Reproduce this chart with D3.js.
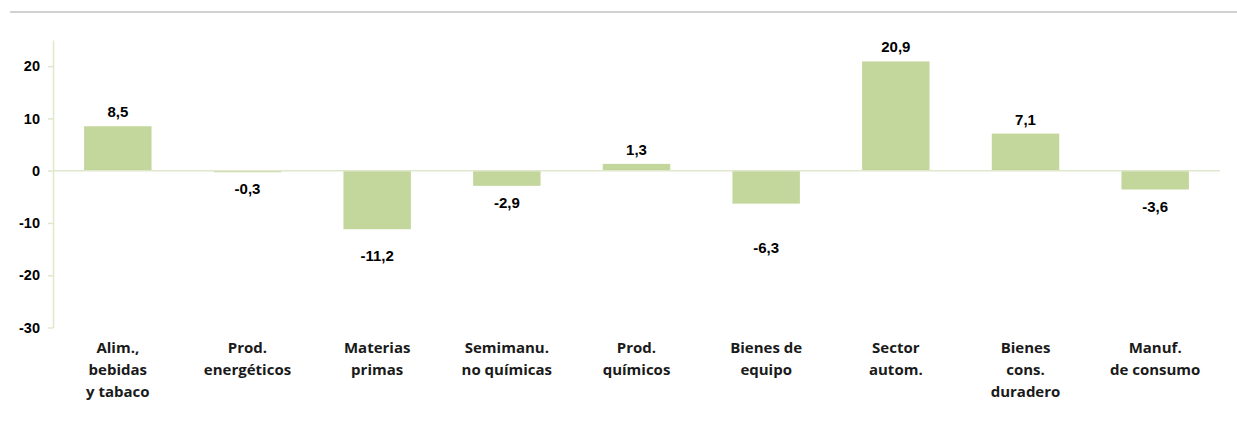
<!DOCTYPE html>
<html>
<head>
<meta charset="utf-8">
<script src="https://cdn.jsdelivr.net/npm/d3@7"></script>
<style>
  body { margin: 0; background: #fff; }
  .tick text { font-family: "Liberation Sans", Arial, sans-serif; font-weight: bold; font-size: 14.5px; fill: #000; }
  .val { font-family: "Liberation Sans", Arial, sans-serif; font-weight: bold; font-size: 15px; fill: #000; }
  .cat { font-family: "Open Sans", sans-serif; font-weight: bold; font-size: 15px; fill: #1a1a1a; }
</style>
</head>
<body>
<div id="chart"></div>
<script>
const width = 1237;
const height = 447;

// datos
const categories = [
  ["Alim.,", "bebidas", "y tabaco"],
  ["Prod.", "energéticos"],
  ["Materias", "primas"],
  ["Semimanu.", "no químicas"],
  ["Prod.", "químicos"],
  ["Bienes de", "equipo"],
  ["Sector", "autom."],
  ["Bienes", "cons.", "duradero"],
  ["Manuf.", "de consumo"]
];
const values = [8.5, -0.3, -11.2, -2.9, 1.3, -6.3, 20.9, 7.1, -3.6];
const yTicks = [-30, -20, -10, 0, 10, 20];

const margin = { top: 40, bottom: 119, left: 53, right: 17 };
const fmt = d3.format(".1f");
const labelText = d => fmt(d).replace(".", ",").replace("\u2212", "-");
const tickText = d => String(d);

// a couple of labels sit lower in the original
const labelNudge = { 2: 10, 5: 27 };

const svg = d3.select("#chart")
  .append("svg")
  .attr("width", width)
  .attr("height", height);

svg.append("line")
  .attr("x1", 10).attr("x2", width)
  .attr("y1", 12).attr("y2", 12)
  .attr("stroke", "#d2d2d2")
  .attr("stroke-width", 2);

const x = d3.scaleBand()
  .domain(d3.range(values.length))
  .range([margin.left, width - margin.right])
  .paddingInner(0.48)
  .paddingOuter(0.24);

const y = d3.scaleLinear()
  .domain([-30, 25])
  .range([height - margin.bottom - 0.5, margin.top]);

// eje y
const yAxis = d3.axisLeft(y)
  .tickValues(yTicks)
  .tickFormat(tickText)
  .tickSizeInner(5)
  .tickSizeOuter(0)
  .tickPadding(8);

const gy = svg.append("g")
  .attr("transform", `translate(${margin.left},0)`)
  .call(yAxis);
gy.select(".domain").attr("stroke", "#dfe8cd").attr("stroke-width", 1.5);
gy.selectAll(".tick line").attr("stroke", "#dfe8cd").attr("stroke-width", 1.5);

// barras
svg.append("g")
  .selectAll("rect")
  .data(values)
  .join("rect")
  .attr("x", (d, i) => x(i))
  .attr("width", x.bandwidth())
  .attr("y", d => y(Math.max(0, d)))
  .attr("height", d => Math.abs(y(d) - y(0)))
  .attr("fill", "#c3d69b");

// linea del cero
svg.append("line")
  .attr("x1", margin.left).attr("x2", width - margin.right)
  .attr("y1", y(0)).attr("y2", y(0))
  .attr("stroke", "#dfe8cd")
  .attr("stroke-width", 1.5);

// etiquetas de valor
svg.append("g")
  .selectAll("text")
  .data(values)
  .join("text")
  .attr("class", "val")
  .attr("text-anchor", "middle")
  .attr("x", (d, i) => x(i) + x.bandwidth() / 2)
  .attr("y", (d, i) => d >= 0 ? y(d) - 9 : y(d) + 22 + (labelNudge[i] || 0))
  .text(labelText);

// etiquetas de categoria
const cat = svg.append("g")
  .selectAll("text")
  .data(categories)
  .join("text")
  .attr("class", "cat")
  .attr("text-anchor", "middle")
  .attr("x", (d, i) => x(i) + x.bandwidth() / 2)
  .attr("y", 353);

cat.selectAll("tspan")
  .data(d => d)
  .join("tspan")
  .attr("x", function () { return d3.select(this.parentNode).attr("x"); })
  .attr("dy", (d, i) => i === 0 ? 0 : 22)
  .text(d => d);
</script>
</body>
</html>
